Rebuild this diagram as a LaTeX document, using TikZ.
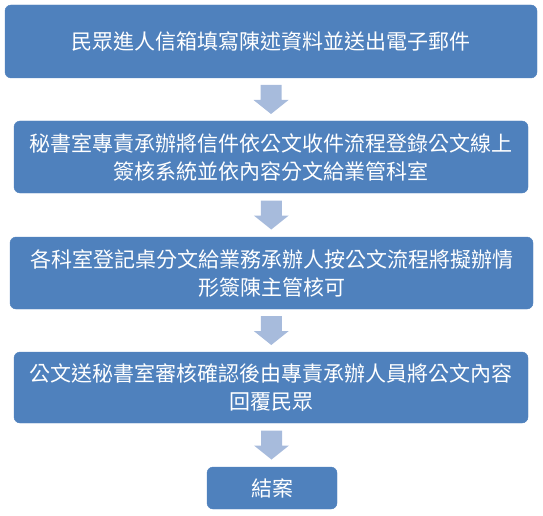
\documentclass[tikz,border=0pt]{standalone}
\usepackage{fontspec}
\newfontfamily\cjk{Noto Sans CJK TC}
\usetikzlibrary{calc}
\definecolor{boxblue}{HTML}{4F81BD}
\definecolor{arrowblue}{HTML}{A7BBDC}
\tikzset{
  stepbox/.style={rectangle, rounded corners=6pt, fill=boxblue, draw=boxblue,
    text=white, align=center, inner sep=0pt,
    font=\cjk\fontsize{21}{28}\selectfont},
  blockarrow/.style={fill=arrowblue, draw=none}
}
\begin{document}
\begin{tikzpicture}[x=1pt,y=-1pt]
\useasboundingbox (0,0) rectangle (543,516);
\node[stepbox, minimum width=532pt, minimum height=73pt] (b1) at (271,41.5)
  {民眾進人信箱填寫陳述資料並送出電子郵件};
\node[stepbox, minimum width=514pt, minimum height=72pt] (b2) at (271,157)
  {秘書室專責承辦將信件依公文收件流程登錄公文線上\\簽核系統並依內容分文給業管科室};
\node[stepbox, minimum width=523pt, minimum height=72pt] (b3) at (271.5,273)
  {各科室登記桌分文給業務承辦人按公文流程將擬辦情\\形簽陳主管核可};
\node[stepbox, minimum width=514pt, minimum height=71pt] (b4) at (271,387.5)
  {公文送秘書室審核確認後由專責承辦人員將公文內容\\回覆民眾};
\node[stepbox, minimum width=130pt, minimum height=42pt] (b5) at (272,488)
  {結案};
\foreach \a/\b in {b1/b2,b2/b3,b3/b4,b4/b5}{
  \coordinate (m) at ($(\a.south)!0.5!(\b.north)$);
  \fill[blockarrow] ($(m)+(-10.5,-14.5)$) -- ($(m)+(10.5,-14.5)$)
    -- ($(m)+(10.5,0.5)$) -- ($(m)+(17.5,0.5)$) -- ($(m)+(0,14.5)$)
    -- ($(m)+(-17.5,0.5)$) -- ($(m)+(-10.5,0.5)$) -- cycle;
}
\end{tikzpicture}
\end{document}
